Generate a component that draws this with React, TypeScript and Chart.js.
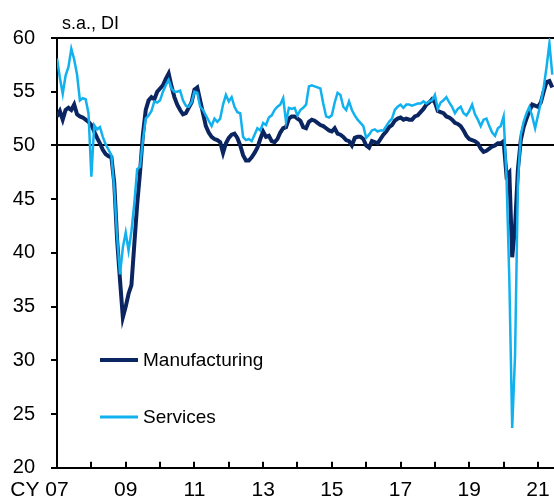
import React, { useEffect, useRef } from 'react';
import { Chart, registerables } from 'chart.js';

Chart.register(...registerables);

// Monthly, Jan 2007 .. Jun 2021 (index 0 = Jan 2007)
const manufacturing = [
  52.7, 53.2, 52.4, 53.3, 53.5, 53.3, 53.8, 52.9, 52.7, 52.6, 52.4, 52.2,
  51.9, 51.3, 50.7, 50.2, 49.6, 49.2, 49.0, 48.9, 46.5, 41.2, 37.5, 34.0,
  35.0, 36.2, 37.0, 40.8, 44.5, 47.5, 51.0, 53.3, 54.2, 54.5, 54.3, 55.0,
  55.3, 55.6, 56.2, 56.7, 55.5, 54.5, 53.8, 53.3, 52.9, 53.0, 53.5, 54.0,
  55.2, 55.4, 54.2, 53.0, 51.8, 51.2, 50.8, 50.6, 50.5, 50.3, 49.3, 50.2,
  50.7, 51.0, 51.1, 50.7, 50.0, 49.1, 48.6, 48.6, 48.9, 49.3, 49.8, 50.6,
  51.3, 50.8, 50.9, 50.4, 50.3, 50.6, 51.2, 51.6, 51.7, 52.5, 52.7, 52.7,
  52.5, 52.3, 51.7, 51.6, 52.2, 52.4, 52.3, 52.1, 51.9, 51.8, 51.6, 51.4,
  51.3, 51.6, 51.1, 51.0, 50.8, 50.5, 50.4, 50.0, 50.7, 50.8, 50.8, 50.6,
  50.0, 49.8, 50.4, 50.3, 50.2, 50.6, 51.0, 51.3, 51.7, 51.9, 52.3, 52.5,
  52.6, 52.4, 52.5, 52.4, 52.4, 52.7, 52.8, 53.1, 53.4, 53.8, 54.0, 54.3,
  54.0, 53.2, 53.1, 53.0, 52.7, 52.6, 52.4, 52.1, 52.0, 51.8, 51.4, 50.9,
  50.6, 50.5, 50.4, 50.2, 49.7, 49.4, 49.5, 49.7, 49.9, 50.0, 50.2, 50.2,
  50.4, 47.2, 47.5, 39.6, 42.4, 47.8, 50.5, 51.7, 52.5, 53.2, 53.8, 53.7,
  53.6, 54.0, 55.0, 55.9, 56.0, 55.4,
];

const services = [
  58.1, 56.3, 54.8, 56.5, 57.3, 59.0, 58.0, 56.6, 54.2, 54.4, 54.3, 53.0,
  47.1, 51.9, 51.5, 51.7, 50.8, 50.1, 49.6, 49.1, 46.0, 41.5, 38.0, 40.5,
  41.9, 40.2, 42.0, 44.6, 47.8, 48.0, 50.5, 52.5, 52.8, 53.2, 54.1, 54.0,
  54.2, 55.0, 55.6, 56.1, 55.3, 55.0, 55.0, 55.1, 54.2, 53.7, 53.6, 54.0,
  55.0, 54.9, 53.6, 53.3, 52.8, 52.3, 51.8, 52.5, 52.2, 52.5, 53.8, 54.7,
  54.1, 54.5, 53.6, 53.1, 53.0, 50.8, 50.5, 50.6, 50.4, 51.0, 51.6, 51.4,
  52.1, 51.9, 52.6, 52.8, 53.3, 53.6, 53.8, 54.4, 52.2, 53.5, 53.4, 53.5,
  52.8, 53.3, 53.5, 53.8, 55.5, 55.6, 55.5, 55.4, 55.3, 53.9, 52.7, 52.6,
  52.8, 54.0, 54.9, 54.7, 53.6, 53.3, 54.1, 53.3, 52.8, 52.4, 52.1, 51.8,
  50.7, 51.0, 51.4, 51.5, 51.3, 51.4, 51.4, 51.8, 52.2, 52.5, 53.3, 53.6,
  53.8, 53.5, 53.8, 53.8, 53.7, 53.8, 53.9, 53.9, 54.1, 53.9, 54.1, 54.2,
  54.7, 53.4, 54.0, 54.2, 54.5, 54.0, 53.6, 53.0, 53.4, 53.6, 53.0, 52.8,
  53.2, 53.8, 52.9, 52.4, 51.8, 52.4, 52.5, 51.8, 51.2, 50.9, 51.6, 51.8,
  52.7, 47.1, 37.5, 23.7, 30.5, 46.6, 51.0, 52.2, 53.0, 53.6, 52.7, 51.6,
  52.8, 54.0, 55.4, 57.3, 59.5, 56.6,
];

const years = [2007, 2008, 2009, 2010, 2011, 2012, 2013, 2014, 2015, 2016, 2017, 2018, 2019, 2020, 2021];
const yearLabels = ['CY 07', '', '09', '', '11', '', '13', '', '15', '', '17', '', '19', '', '21'];
const yTicks = [20, 25, 30, 35, 40, 45, 50, 55, 60];
const unitLabel = 's.a., DI';
const seriesNames = ['Manufacturing', 'Services'];

const NAVY = '#0b2561';
const LIGHT = '#10b1ee';
const FONT = '"Liberation Sans", Arial, sans-serif';

export default function App() {
  const ref = useRef<HTMLCanvasElement | null>(null);

  useEffect(() => {
    if (!ref.current) return;
    const yearIdx = years.map((y) => (y - 2007) * 12);
    const toPts = (arr: number[]) => arr.map((v, i) => ({ x: i, y: v }));

    const extras = {
      id: 'extras',
      afterDraw(chart: any) {
        const ctx = chart.ctx;
        const xs = chart.scales.x;
        const ca = chart.chartArea;
        ctx.save();
        // inward x tick marks
        ctx.strokeStyle = '#000';
        ctx.lineWidth = 2;
        yearIdx.forEach((v) => {
          if (v === 0) return;
          const px = Math.round(xs.getPixelForValue(v));
          ctx.beginPath();
          ctx.moveTo(px, ca.bottom);
          ctx.lineTo(px, ca.bottom - 6);
          ctx.stroke();
        });
        // unit label
        ctx.fillStyle = '#000';
        ctx.font = `18px ${FONT}`;
        ctx.textAlign = 'left';
        ctx.textBaseline = 'alphabetic';
        ctx.fillText(unitLabel, ca.left + 5, 29);
        // legend
        const items = [
          { name: seriesNames[0], color: NAVY, w: 4, y: 360 },
          { name: seriesNames[1], color: LIGHT, w: 3, y: 417 },
        ];
        ctx.font = `19px ${FONT}`;
        ctx.textBaseline = 'middle';
        items.forEach((it) => {
          ctx.strokeStyle = it.color;
          ctx.lineWidth = it.w;
          ctx.beginPath();
          ctx.moveTo(100, it.y);
          ctx.lineTo(138, it.y);
          ctx.stroke();
          ctx.fillStyle = '#000';
          ctx.fillText(it.name, 143, it.y + 1);
        });
        ctx.restore();
      },
    };

    const chart = new Chart(ref.current, {
      type: 'line',
      data: {
        datasets: [
          {
            label: seriesNames[1],
            data: toPts(services),
            borderColor: LIGHT,
            borderWidth: 2.5,
            pointRadius: 0,
            tension: 0,
            order: 0,
          },
          {
            label: seriesNames[0],
            data: toPts(manufacturing),
            borderColor: NAVY,
            borderWidth: 4,
            pointRadius: 0,
            tension: 0,
            order: 1,
          },
        ],
      },
      options: {
        animation: false,
        responsive: true,
        maintainAspectRatio: false,
        layout: { padding: { left: 0, right: 0, top: 38, bottom: 0 } },
        plugins: { legend: { display: false }, tooltip: { enabled: false } },
        scales: {
          x: {
            type: 'linear',
            min: 0,
            max: 173.6,
            afterBuildTicks: (scale: any) => {
              scale.ticks = yearIdx.map((v) => ({ value: v }));
            },
            afterFit: (scale: any) => {
              scale.paddingLeft = 0;
              scale.paddingRight = 0;
            },
            grid: { display: true, drawOnChartArea: false, drawTicks: false },
            border: { display: true, color: '#000', width: 2 },
            ticks: {
              autoSkip: false,
              maxRotation: 0,
              minRotation: 0,
              padding: 10,
              color: '#000',
              font: { family: FONT, size: 21 },
              callback: (value: any) => {
                const k = yearIdx.indexOf(Number(value));
                if (k < 0) return '';
                const lab = yearLabels[k];
                return k === 0 ? lab + '\u0020\u0020\u0020\u0020\u0020\u0020' : lab;
              },
            },
          },
          y: {
            type: 'linear',
            min: 20,
            max: 60,
            afterBuildTicks: (scale: any) => {
              scale.ticks = yTicks.map((v) => ({ value: v }));
            },
            afterFit: (scale: any) => {
              scale.width = 57;
            },
            grid: {
              display: true,
              drawOnChartArea: true,
              drawTicks: true,
              color: (c: any) => (c.tick && (c.tick.value === 50 || c.tick.value === 60) ? '#000' : 'rgba(0,0,0,0)'),
              lineWidth: 2,
              tickColor: '#000',
              tickLength: 6,
              tickWidth: 2,
            },
            border: { display: true, color: '#000', width: 2 },
            ticks: {
              padding: 16,
              color: '#000',
              font: { family: FONT, size: 20 },
            },
          },
        },
      },
      plugins: [extras],
    } as any);

    return () => chart.destroy();
  }, []);

  return (
    <div style={{ position: 'fixed', left: 0, top: 0, width: 554, height: 513 }}>
      <canvas ref={ref} />
    </div>
  );
}
